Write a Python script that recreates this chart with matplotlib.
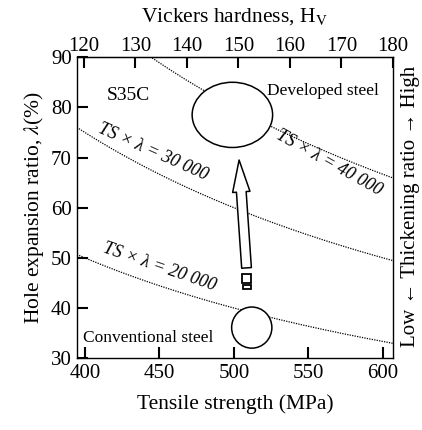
import matplotlib
matplotlib.use("Agg")
import matplotlib.pyplot as plt
from matplotlib.patches import Ellipse, Rectangle
import numpy as np

plt.rcParams['font.family'] = ['Liberation Serif', 'DejaVu Serif']
plt.rcParams['mathtext.fontset'] = 'stix'

# data
products = [20000, 30000, 40000]           # TS x lambda iso-lines
label_pos = [(450, 48.2, 19), (446, 71.2, 24), (564, 68.9, 29)]
ts_ticks = [400, 450, 500, 550, 600]
lam_ticks = [30, 40, 50, 60, 70, 80, 90]
hv_ticks = [120, 130, 140, 150, 160, 170, 180]
hv_anchor = (120, 399.3, 180, 606.7)       # HV <-> TS anchors from the top axis

developed = (499, 78.5, 54, 13.0)          # centre TS, centre lambda, width, height
conventional = (512, 36.1, 27, 8.2)
arrow_tail = (508.5, 48.0)
arrow_tip = (503.5, 69.5)


def ts2hv(ts):
    h0, t0, h1, t1 = hv_anchor
    return h0 + (ts - t0) * (h1 - h0) / (t1 - t0)


def hv2ts(hv):
    h0, t0, h1, t1 = hv_anchor
    return t0 + (hv - h0) * (t1 - t0) / (h1 - h0)


fig = plt.figure(figsize=(4.22, 4.30), dpi=100)
ax = fig.add_axes([0.182, 0.167, 0.749, 0.700])
ax.set_xlim(394.6, 606.7)
ax.set_ylim(30, 90)

ts = np.linspace(394.6, 606.7, 200)
for c in products:
    ax.plot(ts, c / ts, color='k', lw=0.9, ls=(0, (1, 1)), zorder=1)

for c, (x, y, rot) in zip(products, label_pos):
    s = '{:,}'.format(c).replace(',', ' ')
    ax.text(x, y, 'TS × λ = ' + s, fontsize=13, fontstyle='italic',
            family='Liberation Serif', rotation=-rot, ha='center', va='center')

for cx, cy, w, h in [developed, conventional]:
    ax.add_patch(Ellipse((cx, cy), w, h, fc='white', ec='k', lw=1.1, zorder=3))

ax.annotate('', xy=arrow_tip, xytext=arrow_tail,
            arrowprops=dict(arrowstyle='simple,head_length=2.3,head_width=1.25,tail_width=0.7',
                            fc='white', ec='k', lw=1.1, mutation_scale=10,
                            shrinkA=0, shrinkB=0), zorder=4)
ax.add_patch(Rectangle((arrow_tail[0] - 2.8, arrow_tail[1] - 3.1), 5.8, 1.9,
                       fc='white', ec='k', lw=1.3, zorder=4))
ax.add_patch(Rectangle((arrow_tail[0] - 2.2, arrow_tail[1] - 4.2), 5.0, 0.8,
                       fc='white', ec='k', lw=1.3, zorder=4))

ax.text(429, 82.4, 'S35C', fontsize=14, ha='center', va='center')
ax.text(522.5, 83.2, 'Developed steel', fontsize=12.5, ha='left', va='center')
ax.text(398.5, 34.0, 'Conventional steel', fontsize=12.5, ha='left', va='center')

ax.set_xticks(ts_ticks)
ax.set_yticks(lam_ticks)
ax.tick_params(direction='in', length=8, width=1.5, labelsize=15)
ax.tick_params(axis='x', pad=4)
ax.set_xlabel('Tensile strength (MPa)', fontsize=15.5, labelpad=8)
ax.set_ylabel(r'Hole expansion ratio, $\lambda$(%)', fontsize=15.5, labelpad=4)
for sp in ax.spines.values():
    sp.set_linewidth(1.0)

top = ax.secondary_xaxis('top', functions=(ts2hv, hv2ts))
top.set_xticks(hv_ticks)
top.tick_params(direction='in', length=8, width=1.5, labelsize=15, pad=1)
fig.text(0.556, 0.962, r'Vickers hardness, H$_\mathrm{V}$', fontsize=15.5,
         ha='center', va='center')

fig.text(0.972, 0.52, 'Low ← Thickening ratio → High', rotation=90,
         fontsize=15, ha='center', va='center')

fig.savefig('out.png', dpi=100)
